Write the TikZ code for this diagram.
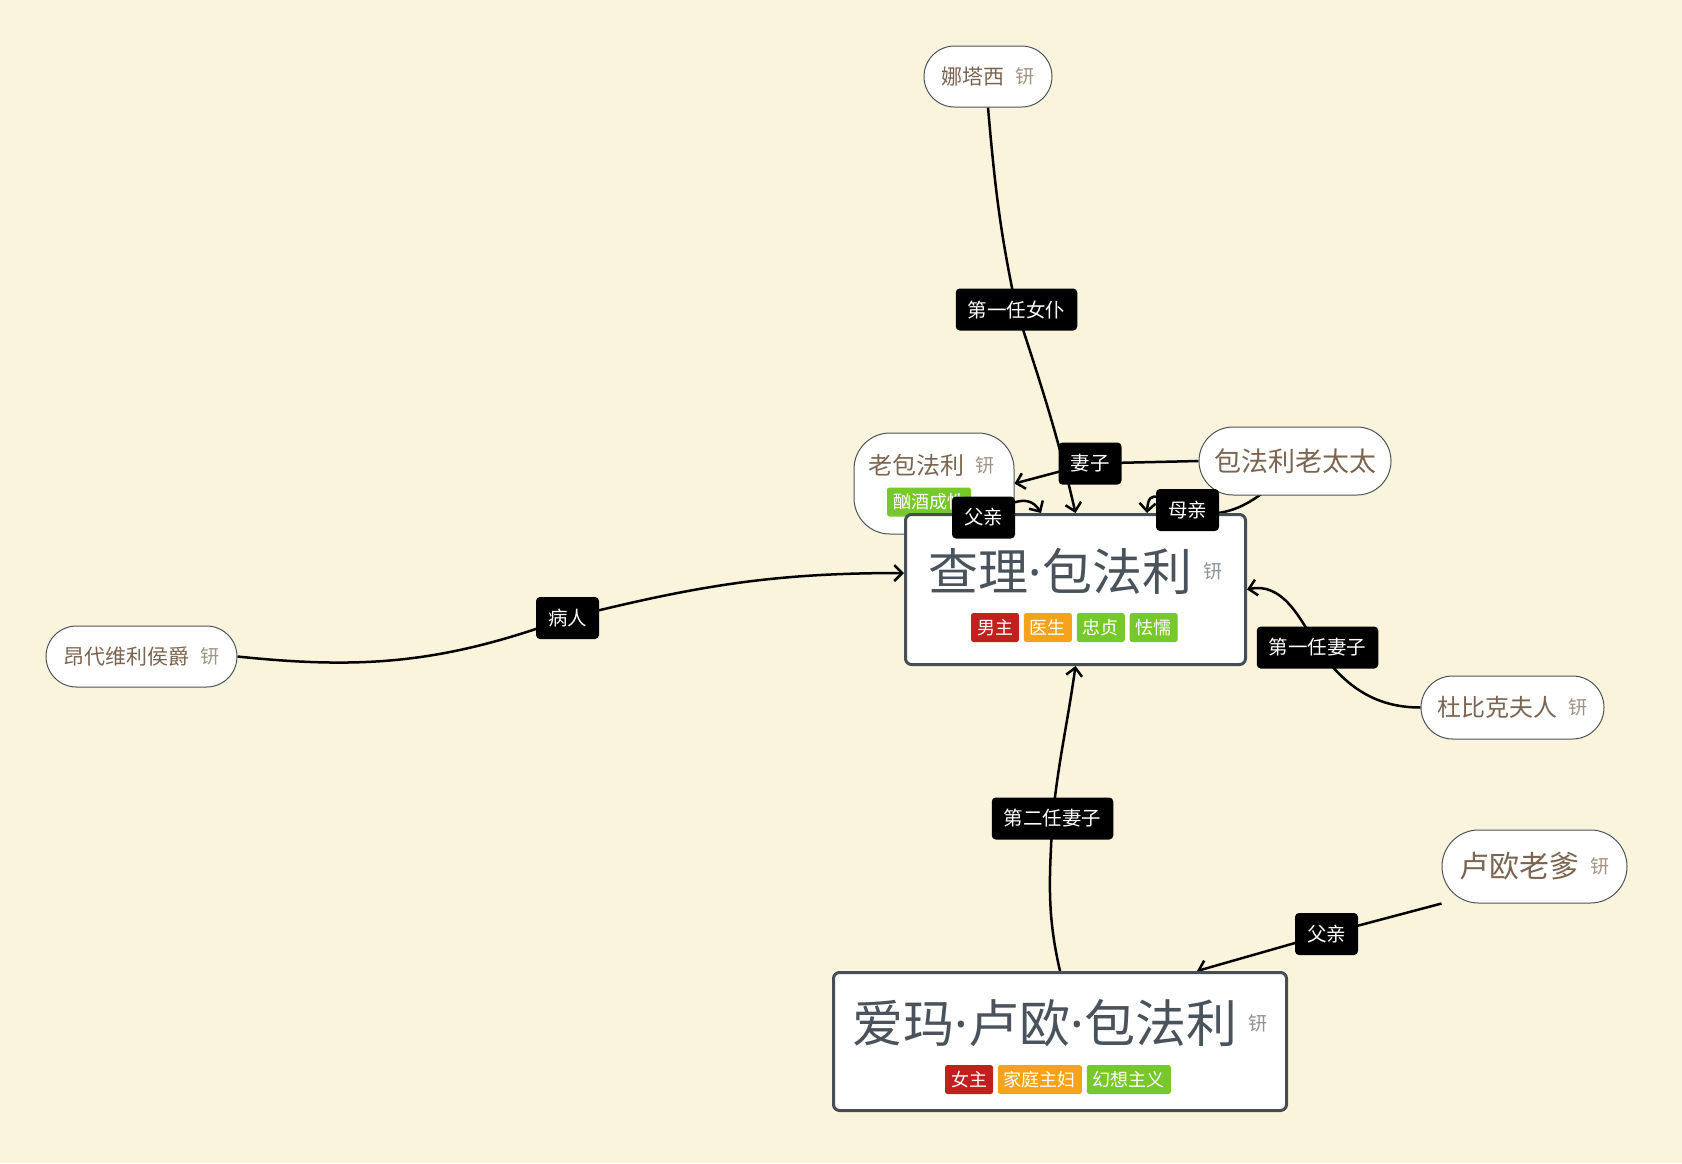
\documentclass[tikz,border=0pt]{standalone}
\usepackage{fontspec}
\setmainfont{Noto Sans CJK SC}
\newfontfamily\latfont{Noto Sans}
\usepackage{xcolor}
\usetikzlibrary{arrows.meta,positioning}

\definecolor{papier}{HTML}{FBF4DC}
\definecolor{pillrand}{HTML}{4B535B}
\definecolor{kastenrand}{HTML}{454E57}
\definecolor{braun}{HTML}{7B6550}
\definecolor{hellbraun}{HTML}{A39382}
\definecolor{titel}{HTML}{4A535C}
\definecolor{grau}{HTML}{8E949A}
\definecolor{tagrot}{HTML}{C21F1F}
\definecolor{taggelb}{HTML}{F7A21B}
\definecolor{taggruen}{HTML}{77C92B}

\makeatletter
\newcommand{\ico}[1]{\hspace{11pt}\raisebox{\dimexpr 0.38\dimexpr\f@size pt\relax-7.2pt\relax}{\textcolor{#1}{\fontsize{19pt}{19pt}\selectfont 钘}}}
\makeatother
\newcommand{\dian}{{\latfont ·}}

\pgfdeclarelayer{hinten}
\pgfdeclarelayer{linien}
\pgfsetlayers{hinten,linien,main}

\tikzset{
 pill/.style={draw=pillrand, line width=1pt, fill=white, text=braun, inner sep=0pt},
 kasten/.style={draw=kastenrand, line width=3pt, fill=white, rounded corners=6pt, inner sep=0pt},
 schild/.style={fill=black, text=white, rounded corners=4pt, inner xsep=12pt, inner ysep=0pt,
  minimum height=42pt, font=\fontsize{19.5pt}{20pt}\selectfont},
 etikett/.style={text=white, rounded corners=2.5pt, inner xsep=6pt, inner ysep=0pt,
  minimum height=29pt, font=\fontsize{18pt}{18pt}\selectfont},
 linie/.style={line width=2.5pt},
 rel/.style={line width=2.5pt, -{Straight Barb[length=8pt,width=16pt]}}
}

\begin{document}
\begin{tikzpicture}[x=1pt,y=1pt]
\useasboundingbox (0,0) rectangle (1682,-1163);
\begin{pgfonlayer}{hinten}
 \fill[papier] (0,0) rectangle (1682,-1163);
\end{pgfonlayer}

 \node[pill, minimum width=128pt, minimum height=61pt, rounded corners=30.5pt,
	font=\fontsize{21pt}{24pt}\selectfont] (nata) at (988,-76.5) {娜塔西\ico{hellbraun}};
 \node[pill, minimum width=160pt, minimum height=101pt, rounded corners=36pt] (laobao) at (934,-483.5) {};
 \node[text=braun, inner sep=0pt, font=\fontsize{24pt}{26pt}\selectfont] (laobaot) at (931,-465) {老包法利\ico{hellbraun}};
 \node[etikett, fill=taggruen] (xujiu) at (929,-502) {酗酒成性};
 \node[pill, minimum width=192pt, minimum height=68pt, rounded corners=34pt,
	font=\fontsize{27pt}{30pt}\selectfont] (laotaitai) at (1295,-461) {包法利老太太};
 \node[pill, minimum width=191pt, minimum height=61pt, rounded corners=30.5pt,
	font=\fontsize{21pt}{24pt}\selectfont] (houjue) at (141.5,-656.5) {昂代维利侯爵\ico{hellbraun}};
 \node[pill, minimum width=183pt, minimum height=63pt, rounded corners=31.5pt,
	font=\fontsize{24pt}{26pt}\selectfont] (dubike) at (1512.5,-707.5) {杜比克夫人\ico{hellbraun}};
 \node[pill, minimum width=185pt, minimum height=73pt, rounded corners=36.5pt,
	font=\fontsize{30pt}{32pt}\selectfont] (luou) at (1534.5,-866.5) {卢欧老爹\ico{hellbraun}};
 %Ende Randfiguren

 \node[kasten, minimum width=340pt, minimum height=150pt] (chali) at (1075.5,-589.5) {};
 \node[text=titel, inner sep=0pt, font=\fontsize{50pt}{52pt}\selectfont] (chalit) at (1075.5,-571) {查理\dian 包法利\ico{grau}};
 \node[etikett, fill=tagrot] (nanzhu) at (995,-627.5) {男主};
 \node[etikett, fill=taggelb, right=4.5pt of nanzhu] (yisheng) {医生};
 \node[etikett, fill=taggruen, right=4.5pt of yisheng] (zhongzhen) {忠贞};
 \node[etikett, fill=taggruen, right=4.5pt of zhongzhen] (qienuo) {怯懦};

 \node[kasten, minimum width=453pt, minimum height=138pt] (emma) at (1060,-1041.5) {};
 \node[text=titel, inner sep=0pt, font=\fontsize{51pt}{53pt}\selectfont] (emmat) at (1060,-1023) {爱玛\dian 卢欧\dian 包法利\ico{grau}};
 \node[etikett, fill=tagrot] (nvzhu) at (969,-1079.5) {女主};
 \node[etikett, fill=taggelb, right=4.5pt of nvzhu] (zhufu) {家庭主妇};
 \node[etikett, fill=taggruen, right=4.5pt of zhufu] (huanxiang) {幻想主义};
 %Ende Hauptfiguren

 \node[schild] (nvpu) at (1016.5,-309.5) {第一任女仆};
 \node[schild] (qizi) at (1090,-463.5) {妻子};
 \node[schild] (fuqin) at (983.5,-517.5) {父亲};
 \node[schild] (muqin) at (1187.5,-510) {母亲};
 \node[schild] (bingren) at (567.5,-618) {病人};
 \node[schild] (qizia) at (1317.5,-647.5) {第一任妻子};
 \node[schild] (qizib) at (1052.5,-818.5) {第二任妻子};
 \node[schild] (fuqinb) at (1326.5,-934) {父亲};
 %Ende Schilder

\begin{pgfonlayer}{linien}
 \draw[linie] (nata.south) to[out=-85,in=102] (nvpu.center);
 \draw[rel] (nvpu.center) to[out=-72,in=103] (chali.north);
 \draw[rel] (laotaitai.west) -- (qizi.center) -- (laobao.east);
 \draw[rel] (laobao.center) .. controls (948,-577) and (1015,-470) .. ([xshift=-34.5pt]chali.north);
 \draw[rel] (laotaitai.center) .. controls (1200,-575) and (1150,-460) .. ([xshift=71.5pt]chali.north);
 \draw[linie] (houjue.east) to[out=-6,in=200] (bingren.center);
 \draw[rel] (bingren.center) to[out=14,in=180] ([yshift=16.5pt]chali.west);
 \draw[linie] (dubike.west) to[out=180,in=-55] (qizia.center);
 \draw[rel] (qizia.center) to[out=120,in=12] (chali.east);
 \draw[linie] (emma.north) to[out=103,in=-93] (qizib.center);
 \draw[rel] (qizib.center) to[out=84,in=-98] (chali.south);
 \draw[rel] (luou.south west) -- (fuqinb.center) -- ([xshift=137pt]emma.north);
\end{pgfonlayer}
\end{tikzpicture}
\end{document}
